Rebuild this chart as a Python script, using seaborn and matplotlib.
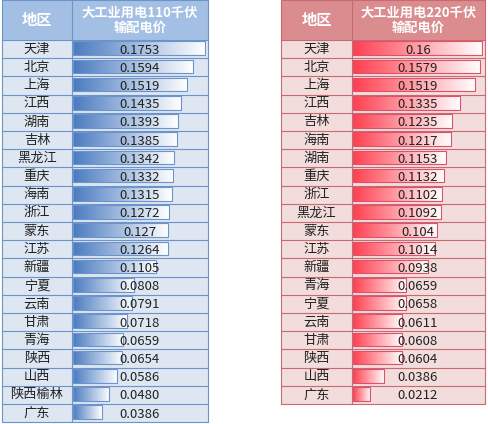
import matplotlib
matplotlib.use("Agg")
import matplotlib.pyplot as plt
import seaborn as sns
import numpy as np
import pandas as pd
from matplotlib.colors import LinearSegmentedColormap

sns.set_style("white")
plt.rcParams['font.family'] = ['Noto Sans CJK SC', 'DejaVu Sans']

left_regions = ["天津","北京","上海","江西","湖南","吉林","黑龙江","重庆","海南","浙江","蒙东","江苏","新疆","宁夏","云南","甘肃","青海","陕西","山西","陕西榆林","广东"]
left_values = [0.1753,0.1594,0.1519,0.1435,0.1393,0.1385,0.1342,0.1332,0.1315,0.1272,0.127,0.1264,0.1105,0.0808,0.0791,0.0718,0.0659,0.0654,0.0586,0.0480,0.0386]
left_labels = ["0.1753","0.1594","0.1519","0.1435","0.1393","0.1385","0.1342","0.1332","0.1315","0.1272","0.127","0.1264","0.1105","0.0808","0.0791","0.0718","0.0659","0.0654","0.0586","0.0480","0.0386"]
right_regions = ["天津","北京","上海","江西","吉林","海南","湖南","重庆","浙江","黑龙江","蒙东","江苏","新疆","青海","宁夏","云南","甘肃","陕西","山西","广东"]
right_values = [0.16,0.1579,0.1519,0.1335,0.1235,0.1217,0.1153,0.1132,0.1102,0.1092,0.104,0.1014,0.0938,0.0659,0.0658,0.0611,0.0608,0.0604,0.0386,0.0212]
right_labels = ["0.16","0.1579","0.1519","0.1335","0.1235","0.1217","0.1153","0.1132","0.1102","0.1092","0.104","0.1014","0.0938","0.0659","0.0658","0.0611","0.0608","0.0604","0.0386","0.0212"]
header_region = "地区"
left_header = "大工业用电110千伏\n输配电价"
right_header = "大工业用电220千伏\n输配电价"

W, H = 489, 424
fig = plt.figure(figsize=(W/100, H/100), dpi=100)
bg = fig.add_axes([0, 0, 1, 1])
bg.set_xlim(0, W); bg.set_ylim(H, 0); bg.axis("off")

def table(x0, xm, x1, regions, values, labels, header, hdr_col, row_col, line_col, bar_dark, bar_edge):
    n = len(regions)
    top, rh = 40, 18.2
    bottom = top + n * rh
    bg.add_patch(plt.Rectangle((x0, 0), x1 - x0, top, fc=hdr_col, ec="none"))
    bg.add_patch(plt.Rectangle((x0, top), x1 - x0, bottom - top, fc=row_col, ec="none"))
    for y in [0] + [top + i * rh for i in range(n + 1)]:
        bg.plot([x0, x1], [y, y], color=line_col, lw=0.8)
    for x in [x0, xm, x1]:
        bg.plot([x, x], [0, bottom], color=line_col, lw=0.8)
    bg.text((x0 + xm) / 2, top / 2, header_region, ha="center", va="center", color="white", fontsize=11, fontweight="bold")
    bg.text((xm + x1) / 2, top / 2, header, ha="center", va="center", color="white", fontsize=9.5, fontweight="bold", linespacing=1.1)
    for i, r in enumerate(regions):
        bg.text((x0 + xm) / 2, top + (i + 0.5) * rh, r, ha="center", va="center", fontsize=9.5, color="#222222")
    ax = fig.add_axes([(xm + 1) / W, 1 - bottom / H, (x1 - xm - 3) / W, (bottom - top) / H])
    df = pd.DataFrame({"region": regions, "value": values})
    sns.barplot(data=df, y="region", x="value", orient="h", ax=ax, width=0.75,
                color=bar_dark, edgecolor=bar_edge, linewidth=0.8)
    vmax = max(values)
    ax.set_xlim(0, vmax * 1.01)
    ax.set_ylim(n - 0.5 + 0.05, -0.5 + 0.05)
    ax.axis("off"); ax.patch.set_alpha(0)
    cmap = LinearSegmentedColormap.from_list("g", [bar_dark, "white"])
    grad = np.linspace(0, 1, 256).reshape(1, -1)
    for p in ax.patches:
        p.set_facecolor("none")
        x, y, w, h = p.get_x(), p.get_y(), p.get_width(), p.get_height()
        im = ax.imshow(grad, extent=(x, x + w, y + h, y), cmap=cmap, aspect="auto", zorder=1)
        im.set_clip_path(p)
        p.set_zorder(2)
    ax.set_xlim(0, vmax * 1.01)
    ax.set_ylim(n - 0.5 + 0.05, -0.5 + 0.05)
    for i, l in enumerate(labels):
        ax.text(vmax * 1.01 / 2, i + 0.1, l, ha="center", va="center", fontsize=9.5, color="#222222", zorder=3)

table(2, 72, 208, left_regions, left_values, left_labels, left_header,
      "#a3bfe3", "#dde6f1", "#6c93cc", "#4a7bc0", "#6c93cc")
table(281, 352, 485, right_regions, right_values, right_labels, right_header,
      "#da8c8e", "#f2dcdc", "#c86b70", "#ff3f4f", "#e0506a")

fig.savefig("out.png", dpi=100)
